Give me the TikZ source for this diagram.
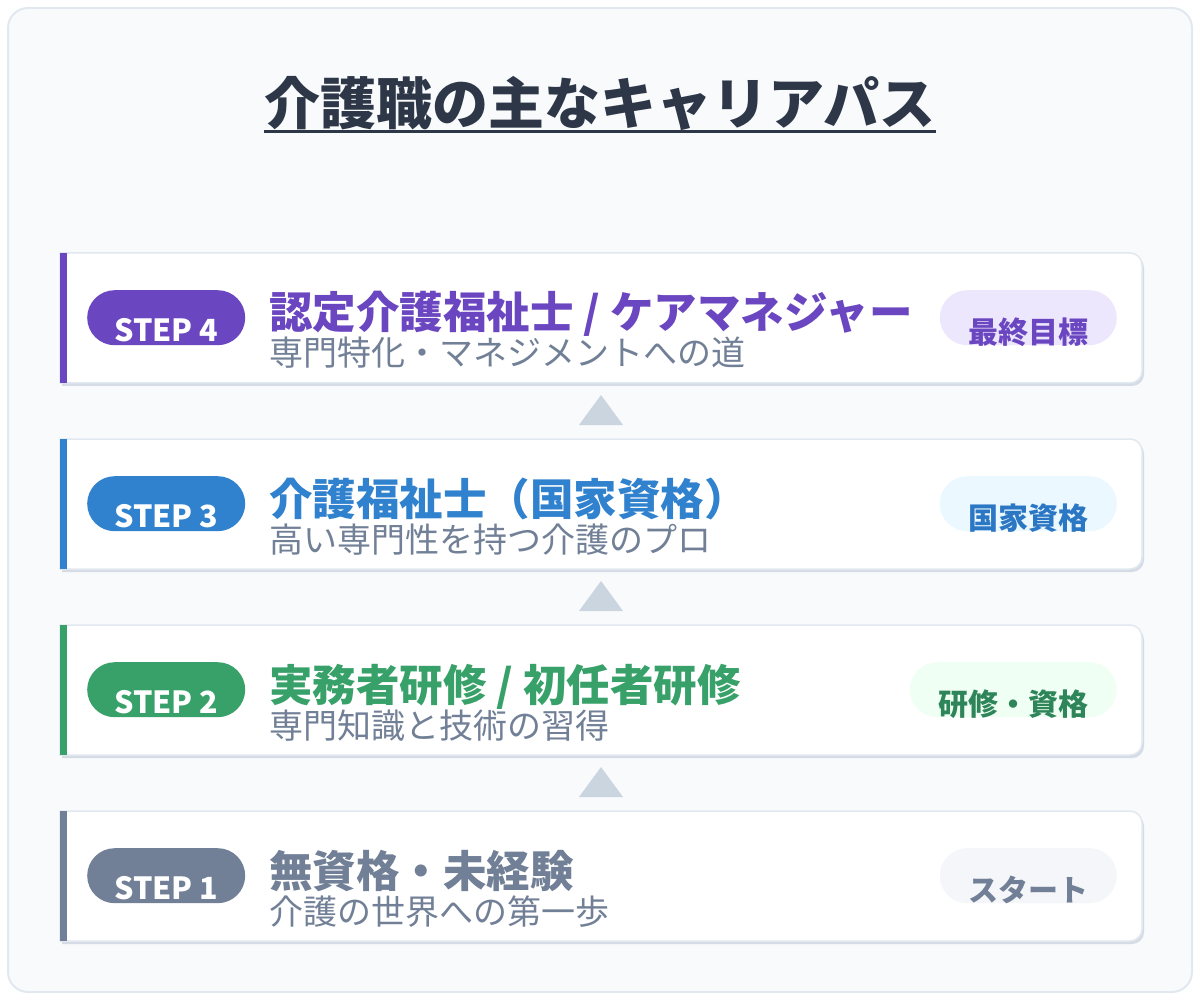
\documentclass[tikz,border=0pt]{standalone}
\usepackage{fontspec}
\setmainfont{Noto Sans CJK JP}
\usetikzlibrary{positioning}

\definecolor{inkdark}{HTML}{2D3748}
\definecolor{subgray}{HTML}{718096}
\definecolor{framebg}{HTML}{F8FAFC}
\definecolor{framegray}{HTML}{E2E8F0}
\definecolor{cardshadow}{HTML}{D5DCE5}
\definecolor{arrowgray}{HTML}{CBD5E0}
\definecolor{stepfour}{HTML}{6B46C1}
\definecolor{stepthree}{HTML}{3182CE}
\definecolor{steptwo}{HTML}{38A169}
\definecolor{stepone}{HTML}{718096}
\definecolor{lightfour}{HTML}{EDE7FD}
\definecolor{lightthree}{HTML}{EBF8FF}
\definecolor{lighttwo}{HTML}{F0FFF4}
\definecolor{lightone}{HTML}{F4F6F9}
\definecolor{badgethree}{HTML}{2B77C4}
\definecolor{badgetwo}{HTML}{2F855A}

\begin{document}
\begin{tikzpicture}[
			x=1pt, y=-1pt,
			card/.style={
				rectangle,
				minimum width=1082pt,
				minimum height=130pt,
				inner sep=0pt,
				outer sep=0pt
			},
			cardline/.style={
				draw=framegray,
				line width=1.5pt,
				fill=white
			},
			pill/.style={
				rectangle,
				rounded corners=27.5pt,
				minimum width=158pt,
				minimum height=55pt,
				inner xsep=0pt,
				inner ysep=0pt,
				text height=51pt,
				text depth=4pt,
				text=white,
				font=\bfseries\fontsize{30.5}{30.5}\selectfont
			},
			badge/.style={
				rectangle,
				rounded corners=27.5pt,
				minimum height=55pt,
				inner xsep=28.5pt,
				inner ysep=0pt,
				text height=53pt,
				text depth=2pt,
				font=\bfseries\fontsize{30}{30}\selectfont
			},
			heading/.style={
				anchor=base west,
				inner sep=0pt,
				font=\bfseries\fontsize{43.5}{43.5}\selectfont
			},
			subline/.style={
				anchor=base west,
				inner sep=0pt,
				text=subgray,
				font=\fontsize{34}{34}\selectfont
			}
			]
			% Fondo y marco
			\useasboundingbox (0,0) rectangle (1200,1000);
			\fill[white] (0,0) rectangle (1200,1000);
			\draw[framegray, fill=framebg, line width=2pt, rounded corners=20pt] (8,8) rectangle (1192,992);
			
			% Título
			\node[anchor=base, inner sep=0pt, text=inkdark, font=\bfseries\fontsize{56}{56}\selectfont] (title) at (600,125) {介護職の主なキャリアパス};
			\draw[inkdark, line width=3pt] ([yshift=-6.5pt]title.base west) -- ([yshift=-6.5pt]title.base east);
			
			% Tarjetas
			\node[card, anchor=north west] (card4) at (60,253) {};
			\node[card, below=56pt of card4] (card3) {};
			\node[card, below=56pt of card3] (card2) {};
			\node[card, below=56pt of card2] (card1) {};
			
			% Sombras y bordes
			\fill[cardshadow, transform canvas={shift={(2pt,-3pt)}}] (card4.north west) [rounded corners=12pt] -- (card4.north east) -- (card4.south east) [sharp corners] -- (card4.south west) -- cycle;
			\fill[cardshadow, transform canvas={shift={(2pt,-3pt)}}] (card3.north west) [rounded corners=12pt] -- (card3.north east) -- (card3.south east) [sharp corners] -- (card3.south west) -- cycle;
			\fill[cardshadow, transform canvas={shift={(2pt,-3pt)}}] (card2.north west) [rounded corners=12pt] -- (card2.north east) -- (card2.south east) [sharp corners] -- (card2.south west) -- cycle;
			\fill[cardshadow, transform canvas={shift={(2pt,-3pt)}}] (card1.north west) [rounded corners=12pt] -- (card1.north east) -- (card1.south east) [sharp corners] -- (card1.south west) -- cycle;
			\draw[cardline] (card4.north west) [rounded corners=12pt] -- (card4.north east) -- (card4.south east) [sharp corners] -- (card4.south west) -- cycle;
			\draw[cardline] (card3.north west) [rounded corners=12pt] -- (card3.north east) -- (card3.south east) [sharp corners] -- (card3.south west) -- cycle;
			\draw[cardline] (card2.north west) [rounded corners=12pt] -- (card2.north east) -- (card2.south east) [sharp corners] -- (card2.south west) -- cycle;
			\draw[cardline] (card1.north west) [rounded corners=12pt] -- (card1.north east) -- (card1.south east) [sharp corners] -- (card1.south west) -- cycle;
			
			% Barras de color
			\fill[stepfour] (card4.north west) rectangle ([xshift=6.5pt]card4.south west);
			\fill[stepthree] (card3.north west) rectangle ([xshift=6.5pt]card3.south west);
			\fill[steptwo] (card2.north west) rectangle ([xshift=6.5pt]card2.south west);
			\fill[stepone] (card1.north west) rectangle ([xshift=6.5pt]card1.south west);
			
			% STEP 4
			\node[pill, fill=stepfour, anchor=north west] (pill4) at ([xshift=27pt, yshift=-37pt]card4.north west) {STEP 4};
			\node[heading, text=stepfour] (head4) at ([xshift=209pt, yshift=-76pt]card4.north west) {認定介護福祉士 / ケアマネジャー};
			\node[subline] (sub4) at ([xshift=209pt, yshift=-113pt]card4.north west) {専門特化・マネジメントへの道};
			\node[badge, fill=lightfour, text=stepfour, anchor=north east] (badge4) at ([xshift=-25pt, yshift=-37pt]card4.north east) {最終目標};
			
			% STEP 3
			\node[pill, fill=stepthree, anchor=north west] (pill3) at ([xshift=27pt, yshift=-37pt]card3.north west) {STEP 3};
			\node[heading, text=stepthree] (head3) at ([xshift=209pt, yshift=-76pt]card3.north west) {介護福祉士（国家資格）};
			\node[subline] (sub3) at ([xshift=209pt, yshift=-113pt]card3.north west) {高い専門性を持つ介護のプロ};
			\node[badge, fill=lightthree, text=badgethree, anchor=north east] (badge3) at ([xshift=-25pt, yshift=-37pt]card3.north east) {国家資格};
			
			% STEP 2
			\node[pill, fill=steptwo, anchor=north west] (pill2) at ([xshift=27pt, yshift=-37pt]card2.north west) {STEP 2};
			\node[heading, text=steptwo] (head2) at ([xshift=209pt, yshift=-76pt]card2.north west) {実務者研修 / 初任者研修};
			\node[subline] (sub2) at ([xshift=209pt, yshift=-113pt]card2.north west) {専門知識と技術の習得};
			\node[badge, fill=lighttwo, text=badgetwo, anchor=north east] (badge2) at ([xshift=-25pt, yshift=-37pt]card2.north east) {研修・資格};
			
			% STEP 1
			\node[pill, fill=stepone, anchor=north west] (pill1) at ([xshift=27pt, yshift=-37pt]card1.north west) {STEP 1};
			\node[heading, text=stepone] (head1) at ([xshift=209pt, yshift=-76pt]card1.north west) {無資格・未経験};
			\node[subline] (sub1) at ([xshift=209pt, yshift=-113pt]card1.north west) {介護の世界への第一歩};
			\node[badge, fill=lightone, text=stepone, anchor=north east] (badge1) at ([xshift=-25pt, yshift=-37pt]card1.north east) {スタート};
			
			% Flechas entre tarjetas
			\fill[arrowgray] ([yshift=-12pt]card4.south) -- ++(-22,30) -- ++(44,0) -- cycle;
			\fill[arrowgray] ([yshift=-12pt]card3.south) -- ++(-22,30) -- ++(44,0) -- cycle;
			\fill[arrowgray] ([yshift=-12pt]card2.south) -- ++(-22,30) -- ++(44,0) -- cycle;
			
		\end{tikzpicture}
\end{document}
